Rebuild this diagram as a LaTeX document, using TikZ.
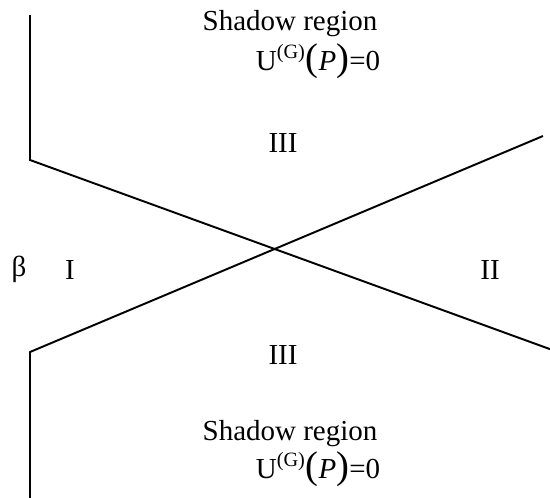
\documentclass[tikz,border=0pt]{standalone}
\usepackage{fontspec}
\setmainfont{Liberation Serif}
\newcommand{\upot}{U\textsuperscript{(G)}{\fontsize{22}{22}\selectfont(}\textit{P}{\fontsize{22}{22}\selectfont)}=0}
\begin{document}
\begin{tikzpicture}[x=0.02cm,y=-0.02cm,
  lbl/.style={inner sep=0pt,anchor=base,font=\fontsize{16.5}{20}\selectfont},
  edge/.style={line width=1.1pt,line join=miter}]
\useasboundingbox (0,0) rectangle (550,497);

\coordinate (topend) at (30,15);
\coordinate (upcorner) at (30,160);
\coordinate (lowright) at (551,349.5);
\coordinate (lowcorner) at (30,352);
\coordinate (upright) at (543,136);
\coordinate (botend) at (30,498);

\draw[edge] (topend) -- (upcorner) -- (lowright);
\draw[edge] (botend) -- (lowcorner) -- (upright);

\node[lbl] (shadowtop) at (290,31) {Shadow region};
\node[lbl] (utop) at (318,70) {\upot};
\node[lbl] (regtop) at (283,152) {III};

\node[lbl] (beta) at (19,276) {β};
\node[lbl] (regone) at (70,279) {I};
\node[lbl] (regtwo) at (490,279) {II};

\node[lbl] (regbot) at (283,364) {III};
\node[lbl] (shadowbot) at (290,440) {Shadow region};
\node[lbl] (ubot) at (318,478) {\upot};
\end{tikzpicture}
\end{document}
